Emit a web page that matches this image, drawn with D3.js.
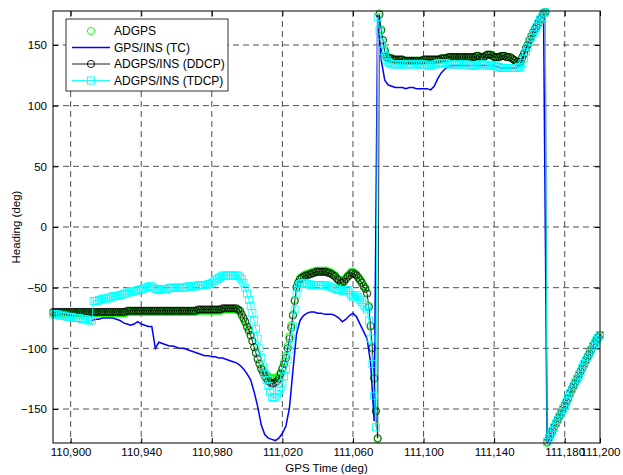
<!DOCTYPE html>
<meta charset="utf-8">
<style>
body { margin: 0; background: #fff; }
.chart text { font-family: "Liberation Sans", Arial, sans-serif; fill: #000; }
.axis text { font-size: 11.5px; }
.axis line { stroke: #000; }
.grid line { stroke: #222; stroke-width: 0.8; stroke-dasharray: 6,4; }
</style>
<svg class="chart"></svg>
<script src="https://d3js.org/d3.v7.min.js"></script>
<script>

// GPS time of first sample (s); markers are logged every 1 s, the TC line every 2 s
var t0 = 110890, step = 1;
var tcStart = 110912, tcStep = 2;

var adgps = [
  -71,-71,-71,-71,-71,-71,-71,-71,-71,-71,-71,-71,-71,-71,-71,-71,-71,-71,-71,-71,
  -71,-71,-71,-71,-71,-71,-71,-71,-71,-71,-71,-71,-71,-71,-71,-71,-71,-71,-71,-71,
  -71,-71,-70,-70,-70,-70,-70,-70,-70,-70,-70,-70,-70,-70,-70,-70,-70,-70,-70,-70,
  -70,-70,-70,-70,-70,-70,-70,-70,-70,-70,-70,-70,-70,-70,-70,-70,-70,-70,-70,-70,
  -70,-70,-69,-69,-69,-69,-69,-69,-69,-69,-69,-69,-69,-69,-69,-69,-68,-68,-68,-68,
  -68,-68,-68,-68,-68,-69,-70,-73,-76,-79,-83,-86,-90,-94,-99,-103,-108,-112,-116,-118,
  -120,-122,-123,-124,-125,-125,-124,-124,-123,-120,-116,-111,-106,-98,-90,-81,-72,-60,-49,-45,
  -42,-41,-40,-39,-39,-38,-38,-37,-37,-36,-36,-36,-36,-36,-36,-36,-37,-37,-38,-39,
  -40,-42,-43,-45,-45,-44,-42,-40,-39,-37,-37,-38,-39,-41,-43,-45,-48,-50,-54,-65,
  -81,-99,-124,-151,-175,176,163,154,146,141,140,139,139,138,138,138,138,138,138,137,
  137,137,137,137,137,137,137,137,137,137,138,138,138,138,138,138,138,138,138,138,
  139,139,139,139,140,140,140,140,140,140,140,140,140,140,140,140,140,140,140,140,
  141,141,140,140,140,141,142,142,142,141,140,140,140,140,141,141,141,140,140,140,
  139,138,137,136,136,136,140,143,147,150,154,157,160,163,165,168,171,173,176,177,
  -178,-174,-171,-168,-165,-162,-159,-156,-153,-150,-147,-144,-141,-137,-134,-131,-128,-125,-122,-119,
  -116,-113,-110,-107,-104,-101,-98,-96,-93,-91,-89
];

var tc = [
  -77,-76,-76,-75,-75,-75,-75,-76,-77,
  -79,-80,-81,-80,-78,-80,-81,-82,-82,-100,
  -95,-96,-97,-98,-98,-99,-100,-100,-101,-102,
  -103,-104,-105,-106,-106,-107,-107,-108,-108,-109,
  -110,-111,-112,-114,-117,-121,-126,-136,-148,-163,
  -171,-174,-175,-176,-174,-170,-164,-149,-118,-88,
  -77,-73,-71,-70,-70,-71,-71,-72,-72,-72,
  -73,-75,-78,-76,-73,-71,-74,-80,-86,-92,
  -112,-160,175,138,121,117,116,115,115,115,
  114,115,115,114,114,114,114,113,116,122,
  127,130,132,133,133,133,133,133,133,133,
  133,133,133,133,133,133,132,131,131,131,
  131,131,132,137,146,153,159,165,171,176,
  -178,-171,-165,-159,-153,-147,-141,-134,-128,-122,
  -116,-110,-104,-98,-93,-89
];

var ddcp = [
  -70,-70,-70,-70,-70,-70,-70,-70,-70,-70,-70,-70,-70,-70,-70,-70,-70,-70,-70,-70,
  -70,-70,-70,-70,-70,-70,-70,-70,-70,-70,-70,-70,-70,-70,-70,-70,-70,-70,-70,-70,
  -70,-70,-69,-69,-69,-69,-69,-69,-69,-69,-69,-69,-69,-69,-69,-69,-69,-69,-69,-69,
  -69,-69,-69,-69,-69,-69,-69,-69,-69,-69,-69,-69,-69,-69,-69,-69,-69,-69,-69,-69,
  -69,-69,-68,-68,-68,-68,-68,-68,-68,-68,-68,-68,-68,-68,-68,-68,-67,-67,-67,-67,
  -67,-67,-67,-67,-67,-68,-69,-72,-75,-78,-82,-85,-89,-94,-99,-104,-109,-113,-117,-120,
  -123,-125,-127,-128,-129,-129,-128,-127,-125,-121,-117,-113,-108,-100,-92,-83,-73,-61,-50,-46,
  -43,-42,-41,-40,-40,-39,-39,-38,-38,-37,-37,-37,-37,-37,-37,-37,-38,-38,-39,-40,
  -41,-43,-44,-46,-46,-45,-43,-41,-40,-38,-38,-39,-40,-42,-44,-46,-49,-51,-55,-66,
  -82,-100,-125,-152,-174,175,162,154,145,140,139,139,139,138,138,138,138,138,138,137,
  137,137,137,137,137,137,137,137,137,137,138,138,138,138,138,138,138,138,138,138,
  139,139,139,139,140,140,140,140,140,140,140,140,140,140,140,140,140,140,140,140,
  141,141,140,140,140,141,142,142,142,141,140,140,140,140,141,141,141,140,140,140,
  139,138,137,136,136,136,140,143,147,150,154,157,160,163,165,168,171,173,176,177,
  -177,-174,-171,-168,-165,-162,-159,-156,-153,-150,-147,-144,-141,-137,-134,-131,-128,-125,-122,-119,
  -116,-113,-110,-107,-104,-101,-98,-96,-93,-91,-89
];

var tdcp = [
  -72,-72,-72,-72,-73,-73,-73,-73,-74,-74,-74,-74,-75,-75,-75,-75,-76,-76,-76,-76,
  -77,-77,-77,-61,-61,-61,-60,-60,-59,-59,-59,-59,-58,-58,-57,-57,-57,-57,-56,-56,
  -55,-55,-54,-54,-53,-53,-53,-53,-52,-52,-51,-51,-50,-50,-49,-49,-49,-50,-51,-51,
  -52,-52,-51,-51,-51,-51,-50,-50,-50,-50,-50,-50,-50,-50,-50,-50,-49,-49,-49,-49,
  -49,-49,-48,-48,-48,-48,-48,-48,-47,-47,-46,-45,-44,-43,-42,-41,-40,-40,-40,-40,
  -40,-40,-40,-40,-40,-40,-41,-43,-46,-50,-55,-60,-65,-71,-77,-84,-92,-100,-108,-115,
  -121,-126,-131,-136,-140,-141,-140,-138,-135,-132,-129,-123,-117,-109,-101,-92,-82,-68,-55,-50,
  -47,-46,-46,-46,-47,-47,-48,-48,-48,-48,-48,-48,-48,-48,-48,-48,-49,-49,-50,-50,
  -51,-51,-52,-52,-53,-53,-52,-52,-54,-56,-58,-57,-56,-58,-60,-62,-64,-66,-68,-77,
  -92,-113,-139,-165,173,162,152,145,141,138,136,135,134,134,134,134,134,134,134,134,
  134,134,134,134,134,134,134,134,134,134,134,134,133,133,133,133,134,134,135,135,
  135,135,135,135,134,134,134,134,134,134,134,134,134,134,134,134,133,133,133,133,
  133,133,134,134,134,134,133,133,133,133,133,133,132,132,131,131,131,131,131,131,
  131,131,131,131,132,132,135,139,144,148,153,156,159,162,165,168,171,173,176,177,
  -177,-174,-171,-168,-165,-162,-159,-156,-153,-150,-147,-144,-141,-137,-134,-131,-128,-125,-122,-119,
  -116,-113,-110,-107,-104,-101,-98,-96,-93,-91,-89
];

var xTicks = [110900, 110940, 110980, 111020, 111060, 111100, 111140, 111180, 111200];
var yTicks = [-150, -100, -50, 0, 50, 100, 150];
var legendLabels = ["ADGPS", "GPS/INS (TC)", "ADGPS/INS (DDCP)", "ADGPS/INS (TDCP)"];

var margin = {top: 11, right: 23, bottom: 32, left: 53},
    width = 623 - margin.left - margin.right,
    height = 475 - margin.top - margin.bottom;

var x = d3.scaleLinear().domain([110890, 111200]).range([0, width]);
var y = d3.scaleLinear().domain([-178, 178]).range([height, 0]);

var svg = d3.select(".chart")
    .attr("width", 623)
    .attr("height", 475);

svg.append("rect").attr("width", 623).attr("height", 475).attr("fill", "#fff");

var chart = svg.append("g")
    .attr("transform", "translate(" + margin.left + "," + margin.top + ")");

// dashed grid
var grid = chart.append("g").attr("class", "grid");
grid.selectAll(".gx")
    .data(xTicks.filter(function (d) { return d < 111200; }))
  .enter().append("line")
    .attr("x1", function (d) { return x(d); })
    .attr("x2", function (d) { return x(d); })
    .attr("y1", 0).attr("y2", height);
grid.selectAll(".gy")
    .data(yTicks)
  .enter().append("line")
    .attr("y1", function (d) { return y(d); })
    .attr("y2", function (d) { return y(d); })
    .attr("x1", 0).attr("x2", width);

// axes, ticks pointing inward
var fmt = d3.format(",");
chart.append("g").attr("class", "axis")
    .attr("transform", "translate(0," + height + ")")
    .call(d3.axisBottom(x).tickValues(xTicks).tickFormat(fmt).tickSizeInner(-5).tickSizeOuter(0).tickPadding(5));
chart.append("g").attr("class", "axis")
    .call(d3.axisTop(x).tickValues(xTicks).tickFormat("").tickSizeInner(-5).tickSizeOuter(0));
chart.append("g").attr("class", "axis")
    .call(d3.axisLeft(y).tickValues(yTicks).tickSizeInner(-5).tickSizeOuter(0).tickPadding(6));
chart.append("g").attr("class", "axis")
    .attr("transform", "translate(" + width + ",0)")
    .call(d3.axisRight(y).tickValues(yTicks).tickFormat("").tickSizeInner(-5).tickSizeOuter(0));
chart.selectAll(".axis .domain").remove();

// data
function lineFor(start, dt) {
  return d3.line()
      .x(function (d, i) { return x(start + i * dt); })
      .y(function (d) { return y(d); });
}
function xAt(d, i) { return x(t0 + i * step); }

var plot = chart.append("g");

plot.selectAll(".adgps")
    .data(adgps)
  .enter().append("circle")
    .attr("cx", xAt)
    .attr("cy", function (d) { return y(d); })
    .attr("r", 3.6)
    .attr("fill", "none")
    .attr("stroke", "#00ff00")
    .attr("stroke-width", 0.9);

plot.append("path")
    .datum(tc)
    .attr("d", lineFor(tcStart, tcStep))
    .attr("fill", "none")
    .attr("stroke", "#0000ff")
    .attr("stroke-width", 1.5);

plot.append("path")
    .datum(ddcp)
    .attr("d", lineFor(t0, step))
    .attr("fill", "none")
    .attr("stroke", "#000")
    .attr("stroke-width", 0.8);
plot.selectAll(".ddcp")
    .data(ddcp)
  .enter().append("circle")
    .attr("cx", xAt)
    .attr("cy", function (d) { return y(d); })
    .attr("r", 3.6)
    .attr("fill", "none")
    .attr("stroke", "#000")
    .attr("stroke-width", 0.7);

plot.append("path")
    .datum(tdcp)
    .attr("d", lineFor(t0, step))
    .attr("fill", "none")
    .attr("stroke", "#00ffff")
    .attr("stroke-width", 0.9);
plot.selectAll(".tdcp")
    .data(tdcp)
  .enter().append("rect")
    .attr("x", function (d, i) { return xAt(d, i) - 3.5; })
    .attr("y", function (d) { return y(d) - 3.5; })
    .attr("width", 7)
    .attr("height", 7)
    .attr("fill", "none")
    .attr("stroke", "#00ffff")
    .attr("stroke-width", 0.8);

// frame
chart.append("rect")
    .attr("width", width)
    .attr("height", height)
    .attr("fill", "none")
    .attr("stroke", "#000")
    .attr("stroke-width", 1);

// axis titles
chart.append("text")
    .attr("x", width / 2)
    .attr("y", height + 29)
    .attr("text-anchor", "middle")
    .style("font-size", "11.5px")
    .text("GPS Time (deg)");
svg.append("text")
    .attr("transform", "translate(20," + (margin.top + height / 2) + ") rotate(-90)")
    .attr("text-anchor", "middle")
    .style("font-size", "11.5px")
    .text("Heading (deg)");

// legend
var lg = chart.append("g").attr("transform", "translate(13,8)");
lg.append("rect")
    .attr("width", 162)
    .attr("height", 72)
    .attr("fill", "#fff")
    .attr("stroke", "#000")
    .attr("stroke-width", 0.8);
var rowH = 16.5, rowY0 = 12;
legendLabels.forEach(function (name, i) {
  var cy = rowY0 + i * rowH;
  var row = lg.append("g").attr("transform", "translate(0," + cy + ")");
  if (i > 0) {
    row.append("line")
        .attr("x1", 6).attr("x2", 44)
        .attr("stroke", ["", "#0000ff", "#000", "#00ffff"][i])
        .attr("stroke-width", i === 1 ? 1.5 : 0.9);
  }
  if (i === 0 || i === 2) {
    row.append("circle")
        .attr("cx", 25).attr("r", 3.6)
        .attr("fill", "none")
        .attr("stroke", i === 0 ? "#00ff00" : "#000")
        .attr("stroke-width", 0.9);
  }
  if (i === 3) {
    row.append("rect")
        .attr("x", 21.5).attr("y", -3.5).attr("width", 7).attr("height", 7)
        .attr("fill", "none").attr("stroke", "#00ffff").attr("stroke-width", 0.9);
  }
  row.append("text")
      .attr("x", 48)
      .attr("dy", "0.35em")
      .style("font-size", "12px")
      .text(name);
});

</script>
